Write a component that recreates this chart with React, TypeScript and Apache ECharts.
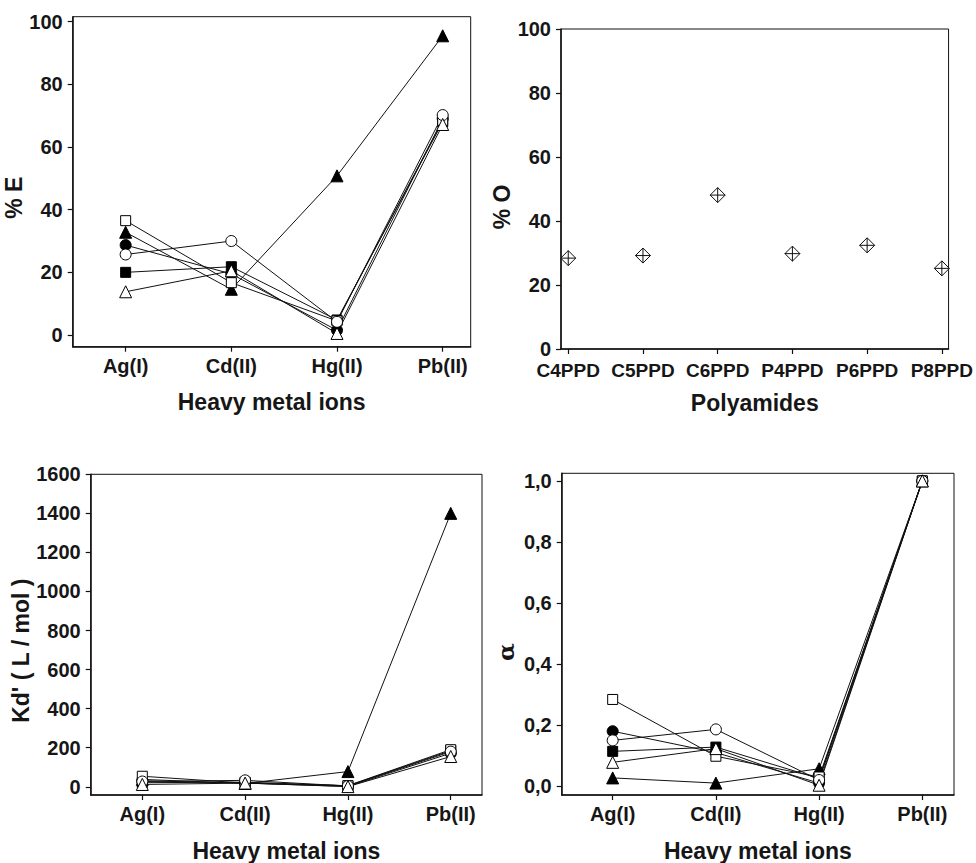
import React, { useEffect, useRef } from "react";
import * as echarts from "echarts";

// ---- categories ----
const metalIons = ["Ag(I)", "Cd(II)", "Hg(II)", "Pb(II)"];
const polyamides = ["C4PPD", "C5PPD", "C6PPD", "P4PPD", "P6PPD", "P8PPD"];

// ---- tick values ----
const ticksE = [0, 20, 40, 60, 80, 100];
const ticksO = [0, 20, 40, 60, 80, 100];
const ticksKd = [0, 200, 400, 600, 800, 1000, 1200, 1400, 1600];
const ticksAlpha = [0, 0.2, 0.4, 0.6, 0.8, 1.0];

// ---- % E (extraction) per marker series, order Ag, Cd, Hg, Pb ----
const eOpenSquare = [36.5, 16.7, 4.5, 68.5];
const eFilledTriangle = [32.8, 14.6, 50.8, 95.5];
const eFilledCircle = [28.7, 19.5, 1.5, 69.0];
const eOpenCircle = [25.7, 30.0, 4.2, 70.2];
const eFilledSquare = [20.0, 21.8, 4.8, 68.0];
const eOpenTriangle = [13.8, 20.5, 0.5, 67.2];

// ---- % O per polyamide ----
const oValues = [28.4, 29.2, 48.1, 29.8, 32.4, 25.2];

// ---- Kd' (L/mol) ----
const kdOpenSquare = [54, 19, 6, 190];
const kdFilledTriangle = [38, 17, 78, 1400];
const kdFilledCircle = [31, 19, 2, 172];
const kdOpenCircle = [27, 33, 4, 180];
const kdFilledSquare = [21, 24, 5, 185];
const kdOpenTriangle = [12, 19, 1, 155];

// ---- alpha ----
const aOpenSquare = [0.284, 0.098, 0.03, 1.0];
const aFilledTriangle = [0.027, 0.01, 0.057, 1.0];
const aFilledCircle = [0.18, 0.11, 0.01, 1.0];
const aOpenCircle = [0.15, 0.186, 0.02, 1.0];
const aFilledSquare = [0.114, 0.128, 0.025, 1.0];
const aOpenTriangle = [0.078, 0.123, 0.003, 1.0];

// marker styles, in drawing order (filled first, open on top)
const markers = [
  { key: "filledSquare", name: "filled square", symbol: "rect", size: 10, fill: "#000000" },
  { key: "filledCircle", name: "filled circle", symbol: "circle", size: 11, fill: "#000000" },
  { key: "filledTriangle", name: "filled triangle", symbol: "triangle", size: 12, fill: "#000000" },
  { key: "openSquare", name: "open square", symbol: "rect", size: 10, fill: "#ffffff" },
  { key: "openCircle", name: "open circle", symbol: "circle", size: 11, fill: "#ffffff" },
  { key: "openTriangle", name: "open triangle", symbol: "triangle", size: 12, fill: "#ffffff" },
];

const FONT = "'Liberation Sans', Arial, Helvetica, sans-serif";
const TXT = "#161616";

function App() {
  const ref = useRef<HTMLDivElement>(null);

  useEffect(() => {
    if (!ref.current) return;
    const chart = echarts.init(ref.current, undefined, { renderer: "svg" });

    const grids = [
      { left: 72.7, top: 16.7, width: 398, height: 330 },
      { left: 561, top: 29, width: 389.7, height: 320 },
      { left: 90.7, top: 474.3, width: 391.3, height: 322 },
      { left: 561.7, top: 473.3, width: 392.3, height: 323.4 },
    ].map((g) => ({
      ...g,
      show: true,
      borderColor: "#111",
      borderWidth: 1,
      backgroundColor: "transparent",
      containLabel: false,
    }));

    const axisLine = { show: true, onZero: false, lineStyle: { color: "#111", width: 1.5 } };
    const tickStyle = { color: "#111", width: 1.2 };
    const labelBase = { color: TXT, fontWeight: "bold" as const, fontSize: 20, fontFamily: FONT };
    const nameBase = { color: TXT, fontWeight: "bold" as const, fontSize: 23, fontFamily: FONT };

    const catAxis = (
      gridIndex: number,
      cats: string[],
      min: number,
      max: number,
      name: string,
      gap: number,
      fontSize: number,
      margin: number
    ) => {
      const idx = cats.map((_, i) => i);
      return {
        type: "value",
        gridIndex,
        min,
        max,
        name,
        nameLocation: "middle",
        nameGap: gap,
        nameTextStyle: nameBase,
        axisLine,
        axisTick: { show: true, inside: false, length: 5, lineStyle: tickStyle, customValues: idx },
        axisLabel: {
          ...labelBase,
          fontSize,
          margin,
          customValues: idx,
          formatter: (v: number) => cats[Math.round(v)] ?? "",
        },
        splitLine: { show: false },
      };
    };

    const valAxis = (
      gridIndex: number,
      ticks: number[],
      min: number,
      max: number,
      name: string,
      gap: number,
      padRight: number,
      fmt: (v: number) => string,
      nameFont?: string
    ) => ({
      type: "value",
      gridIndex,
      min,
      max,
      name,
      nameLocation: "middle",
      nameGap: gap,
      nameTextStyle: { ...nameBase, fontFamily: nameFont || FONT, padding: [0, padRight, 0, 0] },
      axisLine,
      axisTick: { show: true, inside: false, length: 5, lineStyle: tickStyle, customValues: ticks },
      axisLabel: { ...labelBase, margin: 10, customValues: ticks, formatter: fmt },
      splitLine: { show: false },
    });

    const xAxis = [
      catAxis(0, metalIons, -0.501, 3.265, "Heavy metal ions", 44, 20, 9),
      catAxis(1, polyamides, -0.097, 5.09, "Polyamides", 42, 19, 12),
      catAxis(2, metalIons, -0.502, 3.304, "Heavy metal ions", 44, 20, 9),
      catAxis(3, metalIons, -0.494, 3.307, "Heavy metal ions", 44, 20, 9),
    ];

    const yAxis = [
      valAxis(0, ticksE, -3.73, 101.6, "% E", 47, 32, (v) => String(v)),
      valAxis(1, ticksO, 0, 100, "% O", 45, 36, (v) => String(v)),
      valAxis(2, ticksKd, -42, 1600, "Kd' ( L / mol )", 56, 32, (v) => String(v)),
      valAxis(3, ticksAlpha, -0.029, 1.025, "α", 45, 36, (v) => v.toFixed(1).replace(".", ","), "'DejaVu Serif', serif"),
    ];

    const lineSeries = (axisIndex: number, sets: Record<string, number[]>) =>
      markers.map((m) => ({
        type: "line",
        name: m.name,
        xAxisIndex: axisIndex,
        yAxisIndex: axisIndex,
        data: sets[m.key].map((v, i) => [i, v]),
        symbol: m.symbol,
        symbolSize: m.size,
        showAllSymbol: true,
        lineStyle: { color: "#111", width: 1 },
        itemStyle: { color: m.fill, borderColor: "#000", borderWidth: 1, opacity: 1 },
        emphasis: { disabled: true },
        z: 3,
      }));

    const series: any[] = [
      ...lineSeries(0, {
        openSquare: eOpenSquare,
        filledTriangle: eFilledTriangle,
        filledCircle: eFilledCircle,
        openCircle: eOpenCircle,
        filledSquare: eFilledSquare,
        openTriangle: eOpenTriangle,
      }),
      {
        type: "scatter",
        name: "% O",
        xAxisIndex: 1,
        yAxisIndex: 1,
        data: oValues.map((v, i) => [i, v]),
        symbol: "path://M10,0L20,10L10,20L0,10Z M10,0L10,20 M0,10L20,10",
        symbolSize: 15,
        itemStyle: { color: "#ffffff", borderColor: "#111", borderWidth: 1, opacity: 1 },
        emphasis: { disabled: true },
      },
      ...lineSeries(2, {
        openSquare: kdOpenSquare,
        filledTriangle: kdFilledTriangle,
        filledCircle: kdFilledCircle,
        openCircle: kdOpenCircle,
        filledSquare: kdFilledSquare,
        openTriangle: kdOpenTriangle,
      }),
      ...lineSeries(3, {
        openSquare: aOpenSquare,
        filledTriangle: aFilledTriangle,
        filledCircle: aFilledCircle,
        openCircle: aOpenCircle,
        filledSquare: aFilledSquare,
        openTriangle: aOpenTriangle,
      }),
    ];

    chart.setOption({
      animation: false,
      backgroundColor: "#ffffff",
      textStyle: { fontFamily: FONT },
      grid: grids,
      xAxis,
      yAxis,
      series,
    });

    return () => chart.dispose();
  }, []);

  return (
    <div
      ref={ref}
      style={{ position: "fixed", left: 0, top: 0, width: 976, height: 863, background: "#fff" }}
    />
  );
}

export default App;
